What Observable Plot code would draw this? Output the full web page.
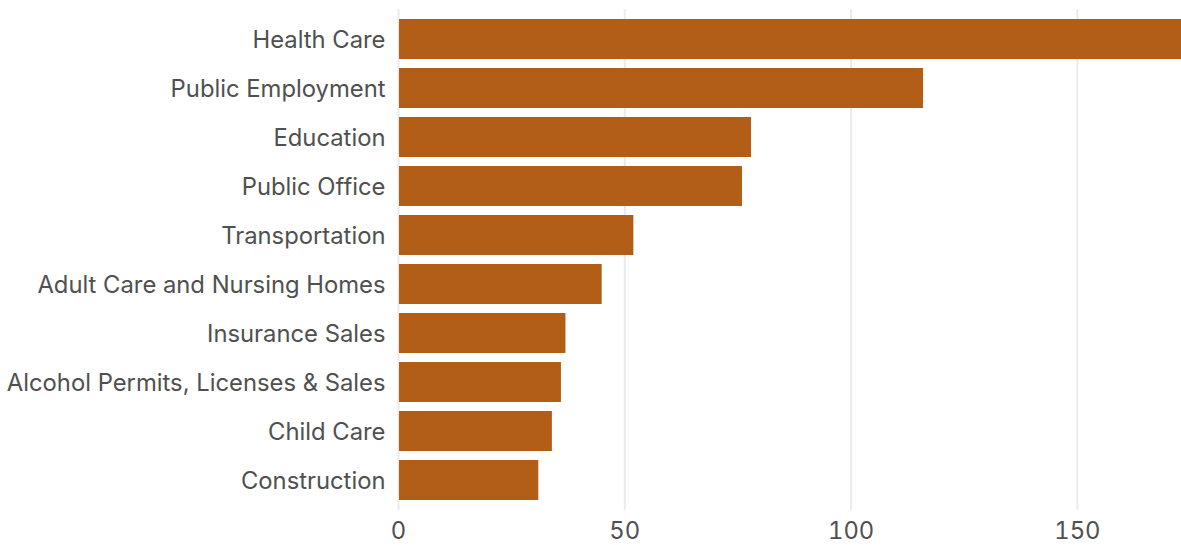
<!DOCTYPE html>
<html>
<head>
<meta charset="utf-8">
<script src="https://cdn.jsdelivr.net/npm/d3@7"></script>
<script src="https://cdn.jsdelivr.net/npm/@observablehq/plot@0.6"></script>
<style>
  html, body { margin: 0; padding: 0; background: #fff; }
  #chart svg { display: block; }
</style>
</head>
<body>
<div id="chart"></div>
<script>
const categories = [
  "Health Care",
  "Public Employment",
  "Education",
  "Public Office",
  "Transportation",
  "Adult Care and Nursing Homes",
  "Insurance Sales",
  "Alcohol Permits, Licenses & Sales",
  "Child Care",
  "Construction"
];
const values = [173, 116, 78, 76, 52, 45, 37, 36, 34, 31];
const xTicks = [0, 50, 100, 150];

const data = categories.map((c, i) => ({category: c, value: values[i]}));

const chart = Plot.plot({
  width: 1181,
  height: 545,
  marginLeft: 398,
  marginRight: 0,
  marginTop: 9,
  marginBottom: 35,
  style: {
    fontFamily: "Inter, 'Noto Sans', sans-serif",
    fontSize: "24px",
    color: "#505050",
    background: "#fff",
    overflow: "visible"
  },
  x: {
    domain: [0, d3.max(values)],
    ticks: xTicks,
    label: null
  },
  y: {
    domain: categories,
    paddingInner: 0.19,
    paddingOuter: 0.2,
    label: null
  },
  marks: [
    Plot.gridX(xTicks, {stroke: "#ebebeb", strokeOpacity: 1, strokeWidth: 2}),
    Plot.barX(data, {x: "value", y: "category", fill: "#B25E16", insetLeft: 1}),
    Plot.axisX(xTicks, {tickSize: 0, tickPadding: 12, fontSize: 23.8, fill: "#505050"}),
    Plot.axisY({tickSize: 0, tickPadding: 13, fontSize: 23.8, dy: 1, fill: "#505050"})
  ]
});
document.getElementById("chart").appendChild(chart);
</script>
</body>
</html>
